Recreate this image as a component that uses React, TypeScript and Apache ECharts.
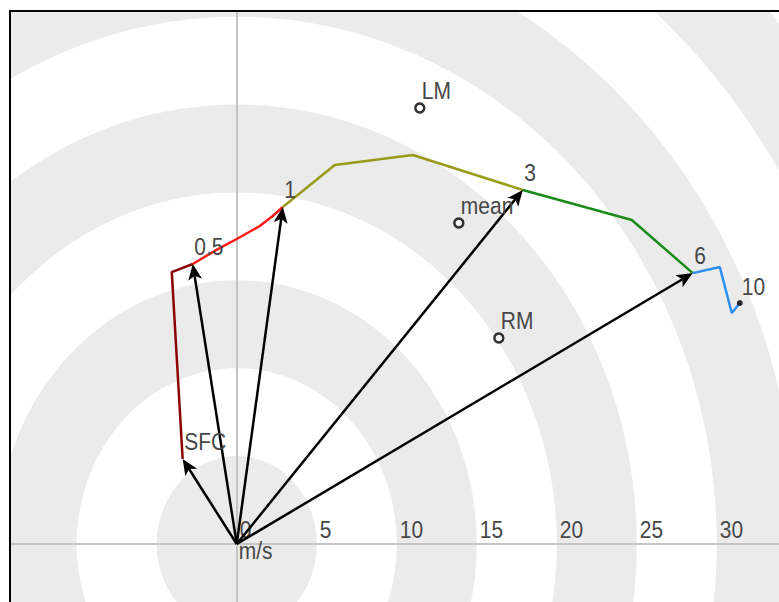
import React, { useEffect, useRef } from "react";
import * as echarts from "echarts";

// Hodograph: wind vectors (u, v) in m/s by height layer.
const tickValues = [0, 5, 10, 15, 20, 25, 30];
const ringRadii = [50, 45, 40, 35, 30, 25, 20, 15, 10, 5];

const layerSfcTo05 = [[-3.38, 4.84], [-4.06, 15.47], [-2.75, 15.93]];
const layer05To1 = [[-2.75, 15.93], [-1.38, 16.67], [0, 17.35], [1.44, 18.09], [2.25, 18.66], [2.88, 19.17]];
const layer1To3 = [[2.88, 19.17], [6.13, 21.56], [11.0, 22.13], [17.88, 20.14]];
const layer3To6 = [[17.88, 20.14], [24.69, 18.43], [28.5, 15.41]];
const layer6To10 = [[28.5, 15.41], [30.19, 15.76], [30.94, 13.14], [31.44, 13.71]];

const arrowTips = [[-3.38, 4.84], [-2.75, 15.93], [2.88, 19.17], [17.88, 20.14], [28.5, 15.41]];

const heightLabels = ["SFC", "0.5", "1", "3", "6"];
const heightPoints = [[-3.38, 4.84], [-2.75, 15.93], [2.88, 19.17], [17.88, 20.14], [28.5, 15.41]];
const topLabels = ["10"];
const topPoints = [[31.44, 13.71]];

const motionLabels = ["LM", "mean", "RM"];
const motionPoints = [[11.44, 24.8], [13.88, 18.26], [16.38, 11.72]];

const unitLabels = ["m/s"];
const unitPoints = [[0, 0]];

const X_MIN = -14.17;
const X_MAX = 33.89;
const Y_MIN = -3.3;
const Y_MAX = 30.32;

const FONT = "'Liberation Sans', Arial, sans-serif";
const TEXT_COLOR = "#474747";
const FONT_SIZE = 21;
const TEXT_STRETCH = 1.1;

function ringItem(_params: any, api: any) {
  const r = api.value(0);
  const pts: number[][] = [];
  for (let a = 0; a < 360; a += 2) {
    const t = (a * Math.PI) / 180;
    pts.push(api.coord([r * Math.cos(t), r * Math.sin(t)]));
  }
  const shaded = Math.round(r / 5) % 2 === 1;
  return {
    type: "polygon",
    shape: { points: pts },
    style: { fill: shaded ? "#ebebeb" : "#ffffff" },
  };
}

function arrowItem(_params: any, api: any) {
  const p0 = api.coord([0, 0]);
  const p1 = api.coord([api.value(0), api.value(1)]);
  const dx = p1[0] - p0[0];
  const dy = p1[1] - p0[1];
  const len = Math.hypot(dx, dy) || 1;
  const ux = dx / len;
  const uy = dy / len;
  const nx = -uy;
  const ny = ux;
  const L = 16;
  const W = 7;
  const base = [p1[0] - ux * L, p1[1] - uy * L];
  const notch = [p1[0] - ux * L * 0.75, p1[1] - uy * L * 0.75];
  return {
    type: "group",
    children: [
      {
        type: "line",
        shape: { x1: p0[0], y1: p0[1], x2: notch[0], y2: notch[1] },
        style: { stroke: "#000", lineWidth: 2.5 },
      },
      {
        type: "polygon",
        shape: {
          points: [
            p1,
            [base[0] + nx * W, base[1] + ny * W],
            notch,
            [base[0] - nx * W, base[1] - ny * W],
          ],
        },
        style: { fill: "#000" },
      },
    ],
  };
}

// Text labels anchored at data points, slightly stretched vertically.
function labelSeries(names: string[], points: number[][], dx: number, dy: number) {
  return {
    type: "custom",
    z: 8,
    silent: true,
    data: points,
    renderItem: (params: any, api: any) => {
      const p = api.coord([api.value(0), api.value(1)]);
      return {
        type: "text",
        x: p[0] + dx,
        y: p[1] + dy,
        scaleY: TEXT_STRETCH,
        style: {
          text: names[params.dataIndex],
          fill: TEXT_COLOR,
          fontSize: FONT_SIZE,
          fontFamily: FONT,
          align: "left",
          verticalAlign: "bottom",
        },
      };
    },
  };
}

function layerLine(data: number[][], color: string) {
  return {
    type: "line",
    data,
    z: 5,
    silent: true,
    symbol: "none",
    lineStyle: { color, width: 2.5 },
  };
}

export default function App() {
  const ref = useRef<HTMLDivElement>(null);

  useEffect(() => {
    document.body.style.margin = "0";
    const chart = echarts.init(ref.current!, null, { renderer: "svg" });
    chart.setOption({
      animation: false,
      backgroundColor: "#fff",
      grid: { left: 10, top: 11, right: 0, bottom: 0, show: false },
      xAxis: {
        type: "value",
        min: X_MIN,
        max: X_MAX,
        z: 3,
        axisLine: { onZero: true, lineStyle: { color: "#c4c4c4", width: 2 } },
        axisTick: { show: false },
        axisLabel: { show: false },
        splitLine: { show: false },
      },
      yAxis: {
        type: "value",
        min: Y_MIN,
        max: Y_MAX,
        z: 3,
        axisLine: { onZero: true, lineStyle: { color: "#c4c4c4", width: 2 } },
        axisTick: { show: false },
        axisLabel: { show: false },
        splitLine: { show: false },
      },
      graphic: [
        {
          type: "line",
          z: 100,
          shape: { x1: 9, y1: 11, x2: 779, y2: 11 },
          style: { stroke: "#000", lineWidth: 2 },
        },
        {
          type: "line",
          z: 100,
          shape: { x1: 10, y1: 10, x2: 10, y2: 602 },
          style: { stroke: "#000", lineWidth: 2 },
        },
      ],
      series: [
        {
          type: "custom",
          z: 1,
          silent: true,
          clip: true,
          renderItem: ringItem,
          data: ringRadii.map((r) => [r, 0]),
        },
        { ...labelSeries(tickValues.map(String), tickValues.map((t) => [t, 0]), 3, -2), z: 4 },
        { ...labelSeries(unitLabels, unitPoints, 2, 19), z: 4 },
        layerLine(layerSfcTo05, "#8b0000"),
        layerLine(layer05To1, "#ff1a1a"),
        layerLine(layer1To3, "#9a9a1a"),
        layerLine(layer3To6, "#1a8a1a"),
        layerLine(layer6To10, "#2a90f0"),
        {
          type: "custom",
          z: 6,
          silent: true,
          renderItem: arrowItem,
          data: arrowTips,
        },
        {
          type: "scatter",
          z: 7,
          silent: true,
          symbolSize: 6,
          itemStyle: { color: "#000" },
          data: topPoints,
        },
        {
          type: "scatter",
          z: 7,
          silent: true,
          symbolSize: 9,
          itemStyle: { color: "#fff", borderColor: "#000", borderWidth: 2.5 },
          data: motionPoints,
        },
        labelSeries(heightLabels, heightPoints, 1.5, -5),
        labelSeries(topLabels, topPoints, 2, -4),
        labelSeries(motionLabels, motionPoints, 2, -5),
      ],
    });
    return () => chart.dispose();
  }, []);

  return <div ref={ref} style={{ width: 779, height: 602 }} />;
}
